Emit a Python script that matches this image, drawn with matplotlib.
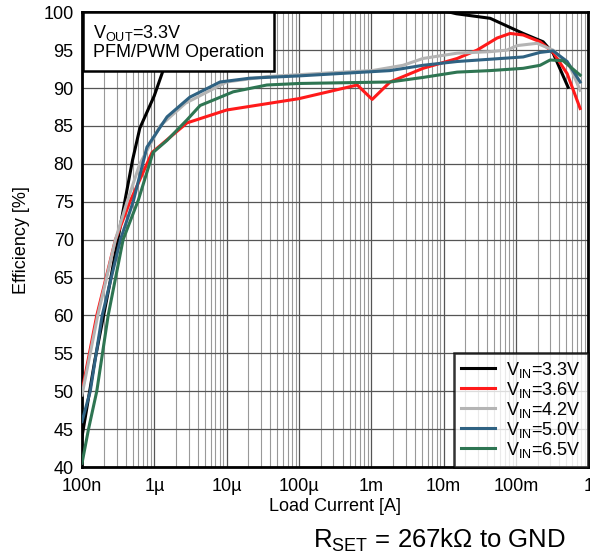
#!/usr/bin/env python3

import numpy as np
import matplotlib
matplotlib.use('Agg')
import matplotlib.pyplot as plt

plt.rcParams['font.family'] = ['Liberation Sans', 'DejaVu Sans']
plt.rcParams['mathtext.fontset'] = 'custom'
plt.rcParams['mathtext.rm'] = 'Liberation Sans'

# load current [A] and efficiency [%] per input voltage
i_33 = [1e-7, 1.5e-7, 2.4e-7, 3.9e-7, 5e-7, 6.3e-7, 1e-6, 1.4e-6, 2.2e-6,
        1.0e-2, 1.5e-2, 4.4e-2, 0.126, 0.238, 0.327, 0.527]
eff_33 = [44, 54, 64, 75, 80.5, 84.7, 89, 93, 100.4,
          100.2, 99.8, 99.2, 97.2, 96.1, 94.6, 90.1]

i_36 = [1e-7, 1.6e-7, 2.9e-7, 4.6e-7, 7.9e-7, 9.3e-7, 2.83e-6, 1.0e-5, 1.0e-4,
        6.4e-4, 1.03e-3, 1.82e-3, 5.2e-3, 1.54e-2, 2.9e-2, 5.5e-2, 8.3e-2,
        0.126, 0.216, 0.327, 0.511, 0.773]
eff_36 = [50, 60, 70, 75, 80, 81.5, 85.4, 87.1, 88.6,
          90.4, 88.5, 90.8, 92.6, 93.9, 95.0, 96.6, 97.2,
          97.0, 96.1, 94.7, 91.9, 87.3]

i_42 = [1e-7, 1.65e-7, 2.9e-7, 4.2e-7, 6.3e-7, 1.2e-6, 2.7e-6, 1.0e-5, 3.5e-5,
        2.6e-4, 1.03e-3, 2.75e-3, 5.2e-3, 1.54e-2, 4.4e-2, 7.5e-2, 0.104,
        0.196, 0.327, 0.56, 0.773]
eff_42 = [49.5, 60, 70, 75, 80, 85, 88, 90.8, 91.5,
          92.0, 92.3, 93.0, 93.9, 94.6, 94.8, 95.0, 95.6,
          95.9, 95.0, 92.8, 89.7]

i_50 = [1e-7, 1.3e-7, 1.9e-7, 3.4e-7, 5.1e-7, 7.9e-7, 1.5e-6, 3.1e-6, 8.1e-6,
        2.1e-5, 1.0e-4, 1.82e-3, 5.2e-3, 1.54e-2, 4.4e-2, 0.126, 0.216,
        0.327, 0.511, 0.773]
eff_50 = [46, 50, 60, 70, 75, 82.2, 86.2, 88.8, 90.8,
          91.3, 91.6, 92.3, 93.0, 93.5, 93.8, 94.1, 94.7,
          94.9, 93.5, 90.8]

i_65 = [1e-7, 1.23e-7, 1.6e-7, 2.3e-7, 3.7e-7, 6.0e-7, 9.6e-7, 1.5e-6,
        2.83e-6, 4.3e-6, 6.5e-6, 1.23e-5, 3.6e-5, 1.0e-4, 1.82e-3, 5.2e-3,
        1.54e-2, 4.4e-2, 0.126, 0.216, 0.297, 0.45, 0.773]
eff_65 = [40.5, 45, 50, 60, 70, 75.2, 81.5, 83.1,
          85.8, 87.7, 88.4, 89.5, 90.4, 90.6, 90.8, 91.4,
          92.1, 92.3, 92.6, 93.0, 93.7, 93.6, 91.7]

series = [
	(i_33, eff_33, 'black', 'V$_{\\mathrm{IN}}$=3.3V'),
	(i_36, eff_36, '#ff1a1a', 'V$_{\\mathrm{IN}}$=3.6V'),
	(i_42, eff_42, '#b4b4b4', 'V$_{\\mathrm{IN}}$=4.2V'),
	(i_50, eff_50, '#2f6282', 'V$_{\\mathrm{IN}}$=5.0V'),
	(i_65, eff_65, '#2e7552', 'V$_{\\mathrm{IN}}$=6.5V'),
]

x_ticks = [1e-7, 1e-6, 1e-5, 1e-4, 1e-3, 1e-2, 1e-1, 1]
x_ticklabels = ['100n', '1µ', '10µ', '100µ', '1m', '10m', '100m', '1']
y_ticks = list(range(40, 101, 5))

fs = 13

fig = plt.figure(figsize=(5.9, 5.56), dpi=100)
ax = fig.add_axes([0.139, 0.160, 0.858, 0.818])

for xs, ys, color, label in series:
	ax.plot(xs, ys, color=color, lw=2.2, label=label, zorder=3)

ax.set_xscale('log')
ax.set_xlim(1e-7, 1)
ax.set_ylim(40, 100)
ax.set_xticks(x_ticks)
ax.set_xticklabels(x_ticklabels, fontsize=fs)
ax.set_yticks(y_ticks)
ax.set_yticklabels([str(v) for v in y_ticks], fontsize=fs)
ax.xaxis.set_minor_locator(matplotlib.ticker.LogLocator(base=10, subs=np.arange(2, 10)))
ax.xaxis.set_minor_formatter(matplotlib.ticker.NullFormatter())
ax.tick_params(which='both', length=0)
ax.tick_params(axis='y', pad=6)
ax.tick_params(axis='x', pad=8)

ax.grid(which='major', axis='both', color='#555555', lw=0.9)
ax.grid(which='minor', axis='x', color='#999999', lw=0.8)
ax.set_axisbelow(True)
for s in ax.spines.values():
	s.set_linewidth(2.0)
	s.set_color('black')

ax.set_xlabel('Load Current [A]', fontsize=fs, labelpad=2)
ax.set_ylabel('Efficiency [%]', fontsize=fs, labelpad=10)

ax.text(0.021, 0.977, 'V$_{\\mathrm{OUT}}$=3.3V\nPFM/PWM Operation', transform=ax.transAxes,
	fontsize=fs, va='top', ha='left', linespacing=1.1, zorder=5,
	bbox=dict(boxstyle='square,pad=0.55', fc='white', ec='black', lw=1.8))

leg = ax.legend(loc='lower right', fontsize=fs, frameon=True, fancybox=False,
	handlelength=1.9, handletextpad=0.6, labelspacing=0.0, borderaxespad=0.0, borderpad=0.4)
leg.get_frame().set_edgecolor('black')
leg.get_frame().set_linewidth(1.8)
leg.set_zorder(6)

fig.text(0.745, 0.028, 'R$_{\\mathrm{SET}}$ = 267kΩ to GND', fontsize=18.5, ha='center', va='center')

plt.savefig('out.png', dpi=100)
plt.close()
